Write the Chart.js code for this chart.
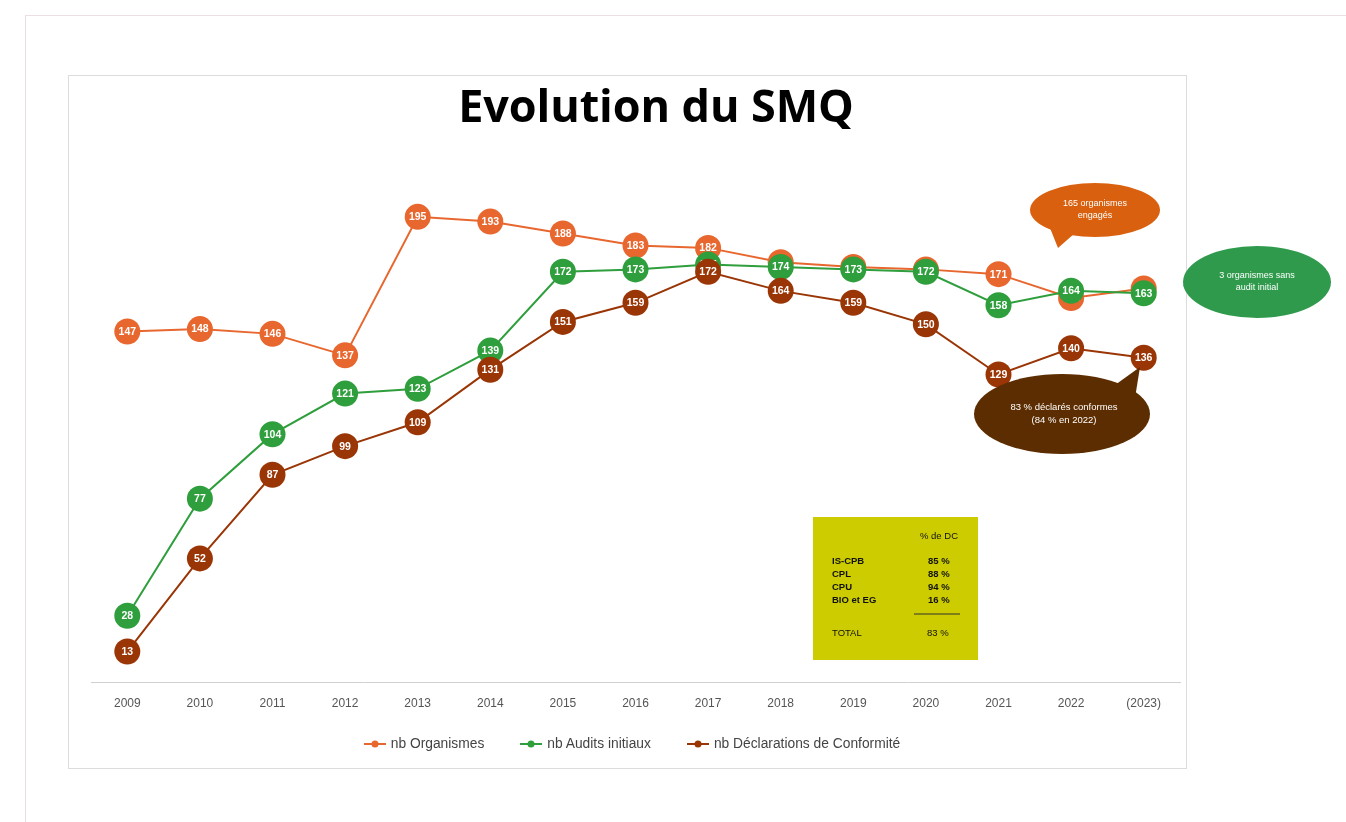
<!DOCTYPE html>
<html>
<head>
<meta charset="utf-8">
<script src="https://cdn.jsdelivr.net/npm/chart.js@4.4.1/dist/chart.umd.min.js"></script>
<style>
  html, body { margin:0; padding:0; background:#fff; }
  body { width:1346px; height:822px; position:relative; overflow:hidden; font-family:"Liberation Sans", Arial, sans-serif; }
  #outer { position:absolute; left:25px; top:15px; width:1340px; height:820px; border-left:1px solid #ecdfe2; border-top:1px solid #ecdfe2; }
  #frame { position:absolute; left:68px; top:75px; width:1117px; height:692px; border:1px solid #dcdcdc; }
  #wrap { position:absolute; left:68px; top:75px; width:1125px; height:693px; }
  #title { position:absolute; left:0; width:1312px; top:74px; text-align:center; font-family:"Open Sans", sans-serif; font-weight:700; font-size:45px; letter-spacing:-0.1px; color:#000; }
  #legend { position:absolute; top:736px; left:0; width:1264px; display:flex; justify-content:center; gap:36px; font-size:13.8px; color:#444; }
  #legend .it { display:flex; align-items:center; gap:5px; }
  #overlay { position:absolute; left:0; top:0; width:1346px; height:822px; pointer-events:none; }
</style>
</head>
<body>
<div id="outer"></div>
<div id="frame"></div>
<div id="wrap"><canvas id="c" width="1125" height="693"></canvas></div>
<div id="title">Evolution du SMQ</div>
<div id="legend"></div>
<svg id="overlay" xmlns="http://www.w3.org/2000/svg" width="1346" height="822">
  <!-- orange callout -->
  <path d="M1050 228 L1058 248 L1075 233 Z" fill="#d9600e"/>
  <ellipse cx="1095" cy="210" rx="65" ry="27" fill="#d9600e"/>
  <text x="1095" y="206" fill="#fff" font-size="9" text-anchor="middle" font-family="Liberation Sans, Arial">165 organismes</text>
  <text x="1095" y="218" fill="#fff" font-size="9" text-anchor="middle" font-family="Liberation Sans, Arial">engagés</text>
  <!-- green callout -->
  <path d="M1200 270 L1183 286 L1205 292 Z" fill="#2f9a4c"/>
  <ellipse cx="1257" cy="282" rx="74" ry="36" fill="#2f9a4c"/>
  <text x="1257" y="278" fill="#fff" font-size="9" text-anchor="middle" font-family="Liberation Sans, Arial">3 organismes sans</text>
  <text x="1257" y="290" fill="#fff" font-size="9" text-anchor="middle" font-family="Liberation Sans, Arial">audit initial</text>
  <!-- brown callout -->
  <path d="M1115 385 L1140 367 L1135 398 Z" fill="#5c2d00"/>
  <ellipse cx="1062" cy="414" rx="88" ry="40" fill="#5c2d00"/>
  <text x="1064" y="410" fill="#fff" font-size="9.5" text-anchor="middle" font-family="Liberation Sans, Arial">83 % déclarés conformes</text>
  <text x="1064" y="423" fill="#fff" font-size="9.5" text-anchor="middle" font-family="Liberation Sans, Arial">(84 % en 2022)</text>
  <!-- yellow table -->
  <rect x="813" y="517" width="165" height="143" fill="#cccc00"/>
  <g font-family="Liberation Sans, Arial" font-size="9.5" font-weight="700" fill="#111">
    <text x="920" y="539" font-weight="400">% de DC</text>
    <text x="832" y="564">IS-CPB</text><text x="928" y="564">85 %</text>
    <text x="832" y="577">CPL</text><text x="928" y="577">88 %</text>
    <text x="832" y="590">CPU</text><text x="928" y="590">94 %</text>
    <text x="832" y="603">BIO et EG</text><text x="928" y="603">16 %</text>
    <text x="832" y="636" font-weight="400">TOTAL</text><text x="927" y="636" font-weight="400">83 %</text>
  </g>
  <line x1="914" y1="614" x2="960" y2="614" stroke="#333" stroke-width="1"/>
</svg>
<script>
const years = ["2009","2010","2011","2012","2013","2014","2015","2016","2017","2018","2019","2020","2021","2022","(2023)"];
const nbOrganismes = [147,148,146,137,195,193,188,183,182,176,174,173,171,161,165];
const nbAuditsInitiaux = [28,77,104,121,123,139,172,173,175,174,173,172,158,164,163];
const nbDeclarations = [13,52,87,99,109,131,151,159,172,164,159,150,129,140,136];
const seriesNames = ["nb Organismes","nb Audits initiaux","nb Déclarations de Conformité"];
const colors = ["#e8672f","#2f9e3c","#9a3505"];

const labelPlugin = {
  id:'pointLabels',
  afterDatasetDraw(chart, args) {
    const ctx = chart.ctx;
    const ds = chart.data.datasets[args.index];
    ctx.save();
    ctx.fillStyle = '#fff';
    ctx.font = 'bold 10.5px "Liberation Sans", Arial';
    ctx.textAlign = 'center';
    ctx.textBaseline = 'middle';
    args.meta.data.forEach((pt, i) => {
      ctx.fillText(String(ds.data[i]), pt.x, pt.y + 0.5);
    });
    ctx.restore();
  }
};

const sets = [nbOrganismes, nbAuditsInitiaux, nbDeclarations];
const orders = [2,1,0];
new Chart(document.getElementById('c'), {
  type:'line',
  data:{
    labels: years,
    datasets: sets.map((d,i)=>({
      label: seriesNames[i], data: d, borderColor: colors[i], backgroundColor: colors[i],
      pointBackgroundColor: colors[i], pointBorderColor: colors[i], borderWidth: 2,
      pointRadius: 13, pointBorderWidth: 0, tension: 0, order: orders[i], fill:false
    }))
  },
  options:{
    responsive:false, animation:false,
    layout:{ padding:{ left:23, right:5, top:106, bottom:43 } },
    plugins:{ legend:{display:false}, tooltip:{enabled:false}, title:{display:false} },
    scales:{
      x:{ offset:true, grid:{ display:false, drawTicks:false }, border:{ display:true, color:'#d0d0d0', width:1 },
          ticks:{ padding:14, color:'#555', font:{ size:12, family:'"Liberation Sans", Arial' } } },
      y:{ display:false, min:0, max:210 }
    }
  },
  plugins:[labelPlugin]
});

const legend = document.getElementById('legend');
seriesNames.forEach((n,i)=>{
  const it = document.createElement('div'); it.className='it';
  it.innerHTML = `<svg width="22" height="8"><line x1="0" y1="4" x2="22" y2="4" stroke="${colors[i]}" stroke-width="2"/><circle cx="11" cy="4" r="3.5" fill="${colors[i]}"/></svg><span>${n}</span>`;
  legend.appendChild(it);
});
</script>
</body>
</html>
